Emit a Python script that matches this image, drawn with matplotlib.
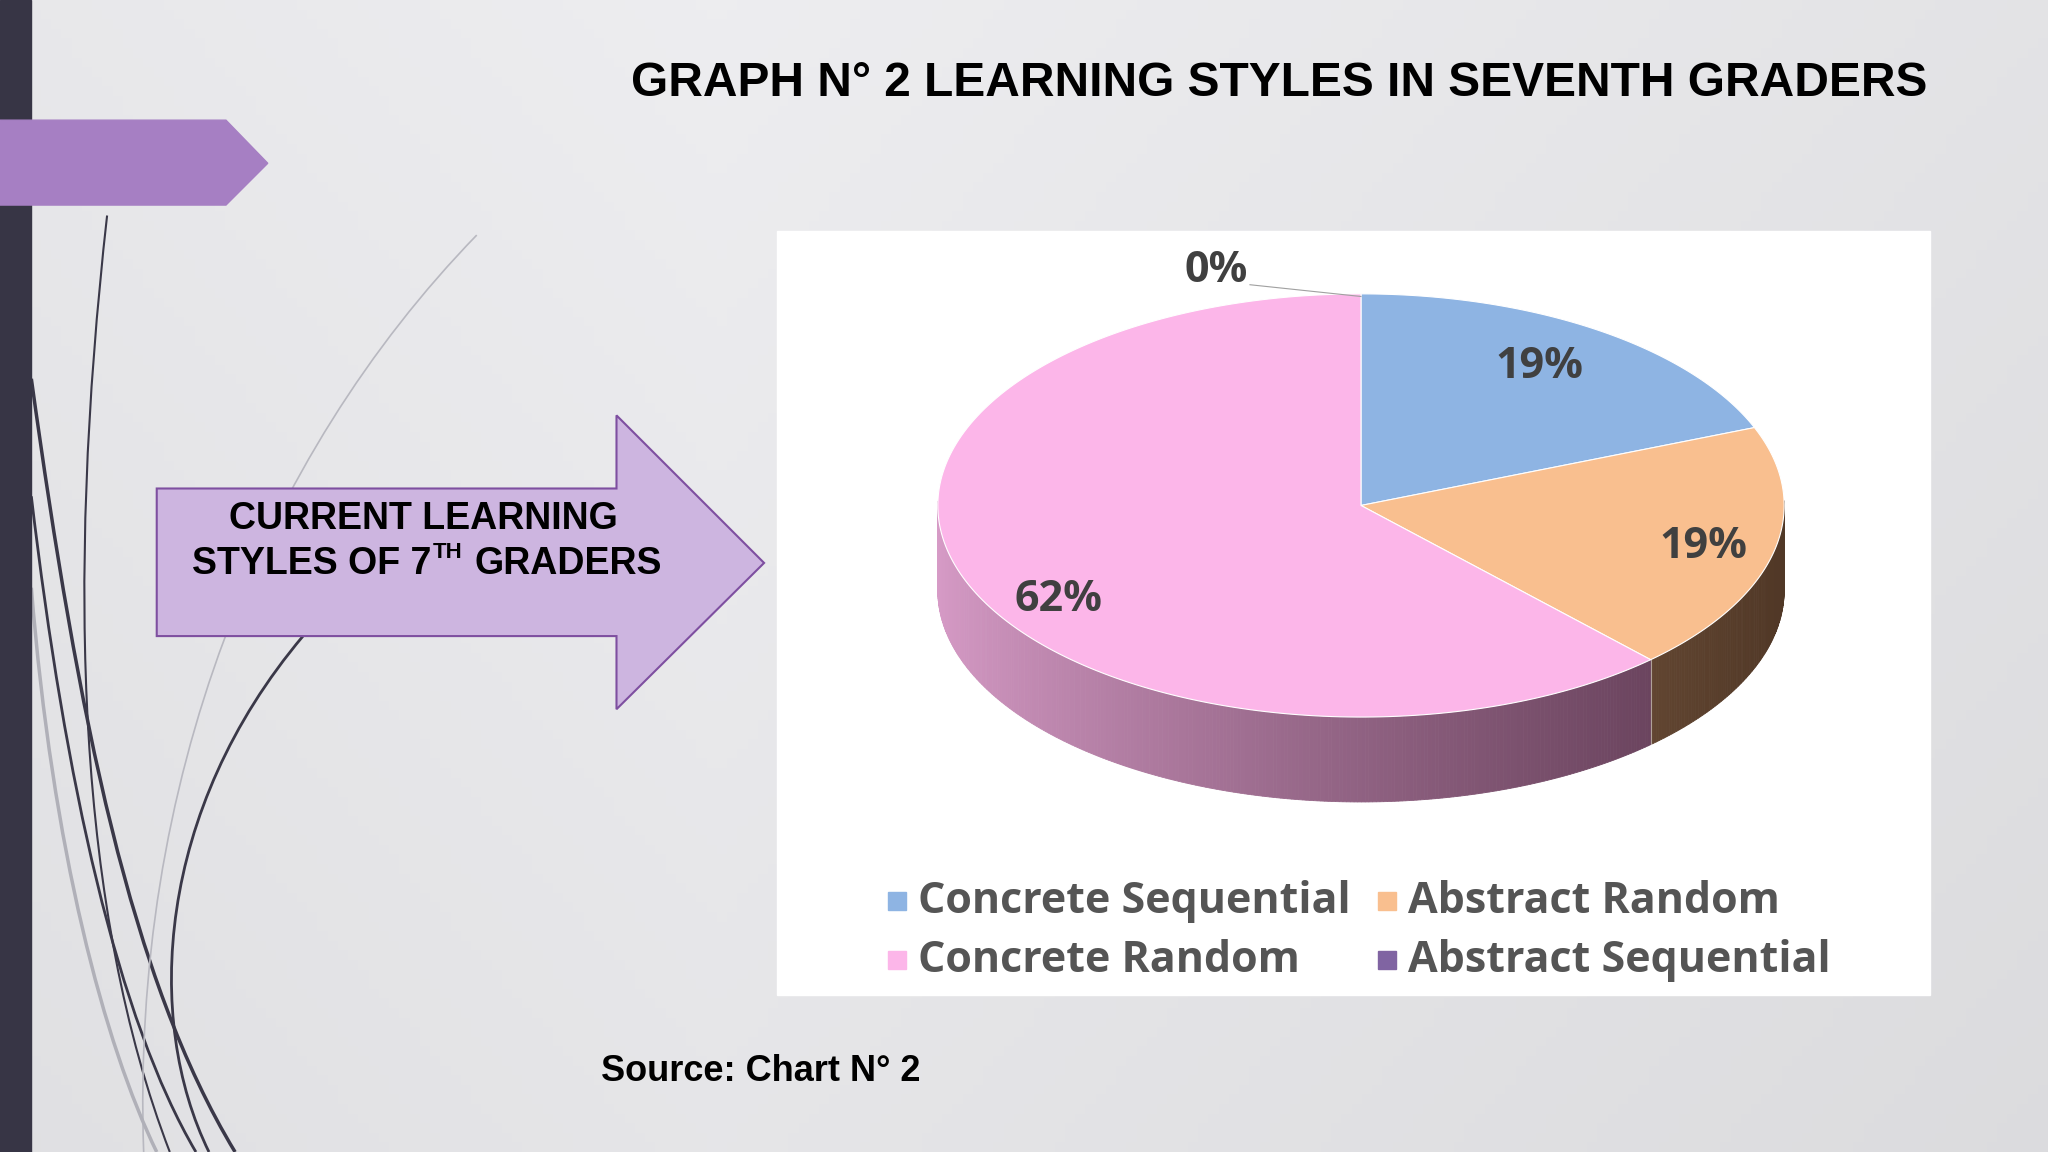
import numpy as np
import matplotlib.pyplot as plt
from matplotlib.patches import Polygon, Rectangle
from matplotlib.path import Path
from matplotlib.patches import PathPatch

# data
categories = ['Concrete Sequential', 'Abstract Random', 'Concrete Random', 'Abstract Sequential']
values = [19, 19, 62, 0]
colors = ['#8EB4E3', '#F9BF8F', '#FCB6E9', '#8064A2']
side_dark = ['#5a7090', '#6b4a33', '#7a4a6a', '#5a4575']
label_txt = ['19%', '19%', '62%', '0%']

W, H = 1568, 882
fig = plt.figure(figsize=(20.48, 11.52), dpi=100)
ax = fig.add_axes([0, 0, 1, 1])
ax.set_xlim(0, W)
ax.set_ylim(H, 0)
ax.axis('off')

# background gradient
gx = np.linspace(0, 1, 200)
gy = np.linspace(0, 1, 120)
X, Y = np.meshgrid(gx, gy)
bg = 0.93 - 0.06 * np.abs(X - 0.35) - 0.03 * Y
ax.imshow(np.dstack([bg, bg, bg + 0.01]).clip(0, 1), extent=[0, W, H, 0], aspect='auto', zorder=0)

# left decoration
ax.add_patch(Rectangle((0, 0), 24, H, color='#373545', zorder=3))
ax.add_patch(Polygon([(0, 92), (173, 92), (205, 125), (173, 157), (0, 157)], color='#A67FC3', zorder=4))
curves = [
    ([(82, 165), (50, 450), (60, 700), (130, 882)], '#3a3848', 1.5),
    ([(24, 290), (60, 550), (100, 750), (180, 882)], '#3a3848', 2.5),
    ([(24, 380), (50, 600), (90, 780), (150, 882)], '#3a3848', 2.0),
    ([(232, 487), (120, 620), (110, 780), (160, 882)], '#3a3848', 2.0),
    ([(365, 180), (200, 350), (100, 600), (110, 882)], '#b8b8c0', 1.2),
    ([(24, 450), (40, 650), (80, 800), (120, 882)], '#b0b0b8', 2.5),
]
for pts, c, lw in curves:
    p = Path(pts, [Path.MOVETO, Path.CURVE4, Path.CURVE4, Path.CURVE4])
    ax.add_patch(PathPatch(p, fill=False, color=c, lw=lw, zorder=2))

# arrow box
ax.add_patch(Polygon([(120, 374), (472, 374), (472, 318), (585, 431), (472, 543), (472, 487), (120, 487)],
                     facecolor='#CDB5E0', edgecolor='#7E4FA0', lw=1.5, zorder=4))
tf = dict(fontfamily='Liberation Sans', fontweight='bold', color='black', zorder=5)
ax.text(324, 397, 'CURRENT LEARNING', fontsize=27, ha='center', va='center', **tf)
ax.text(330, 432, 'STYLES OF 7', fontsize=27, ha='right', va='center', **tf)
ax.text(331, 423, 'TH', fontsize=16, ha='left', va='center', **tf)
ax.text(363, 432, 'GRADERS', fontsize=27, ha='left', va='center', **tf)

# title and source
ax.text(979, 64, 'GRAPH N° 2 LEARNING STYLES IN SEVENTH GRADERS', fontsize=34.5, ha='center', va='center', **tf)
ax.text(460, 820, 'Source: Chart N° 2', fontsize=26, ha='left', va='center', **tf)

# chart area
ax.add_patch(Rectangle((595, 177), 883, 585, color='white', zorder=5))

cx, cy, rx, ry, depth = 1042, 387, 324, 162, 65

def pt(t):
    return cx + rx * np.cos(np.radians(t)), cy - ry * np.sin(np.radians(t))

# angles: clockwise from top
starts, ends = [], []
a = 90.0
for v in values:
    starts.append(a)
    a -= v / sum(values) * 360
    ends.append(a)

# sides (front visible part)
for i in range(len(values)):
    s, e = starts[i], ends[i]
    ts = np.linspace(s, e, max(2, int(abs(s - e) * 2)))
    for t0, t1 in zip(ts[:-1], ts[1:]):
        tm = (t0 + t1) / 2
        if np.sin(np.radians(tm)) > 0.02:
            continue
        f = ((np.cos(np.radians(tm)) + 1) / 2) ** 0.8
        c0 = np.array(plt.matplotlib.colors.to_rgb(colors[i])) * 0.85
        c1 = np.array(plt.matplotlib.colors.to_rgb(side_dark[i])) * 0.75
        col = c0 * (1 - f) + c1 * f
        x0, y0 = pt(t0)
        x1, y1 = pt(t1)
        ax.add_patch(Polygon([(x0, y0), (x1, y1), (x1, y1 + depth), (x0, y0 + depth)],
                             facecolor=col, edgecolor=col, lw=0.6, zorder=6))
xo, yo = pt(ends[1])
ax.plot([xo, xo], [yo, yo + depth], color='#ffffff', lw=0.8, alpha=0.5, zorder=7)

# tops
for i in range(len(values)):
    if values[i] == 0:
        continue
    ts = np.linspace(starts[i], ends[i], 200)
    xy = [(cx, cy)] + [pt(t) for t in ts]
    ax.add_patch(Polygon(xy, facecolor=colors[i], edgecolor='white', lw=0.8, zorder=8))

# labels
lab_f = [0.75, 0.83, 0.77, 1.0]
lab_dy = [-6, 2, 26, 0]
lf = dict(fontfamily='Open Sans', fontweight='bold', color='#404040', zorder=9)
for i in range(len(values)):
    mid = (starts[i] + ends[i]) / 2
    if values[i] == 0:
        ax.text(931, 207, label_txt[i], fontsize=31, ha='center', va='center', **lf)
        ax.plot([957, 1042], [218, 227], color='#a0a0a0', lw=0.8, zorder=9)
        continue
    x = cx + rx * lab_f[i] * np.cos(np.radians(mid))
    y = cy - ry * lab_f[i] * np.sin(np.radians(mid)) + lab_dy[i]
    ax.text(x, y, label_txt[i], fontsize=31, ha='center', va='center', **lf)

# legend
leg_pos = [(680, 690), (1055, 690), (680, 735), (1055, 735)]
for i, (lx, ly) in enumerate(leg_pos):
    ax.add_patch(Rectangle((lx, ly - 7), 14, 14, color=colors[i], zorder=9))
    ax.text(lx + 23, ly, categories[i], fontsize=31, ha='left', va='center', color='#555555',
            fontfamily='Open Sans', fontweight='bold', zorder=9)

fig.savefig('out.png', dpi=100)
